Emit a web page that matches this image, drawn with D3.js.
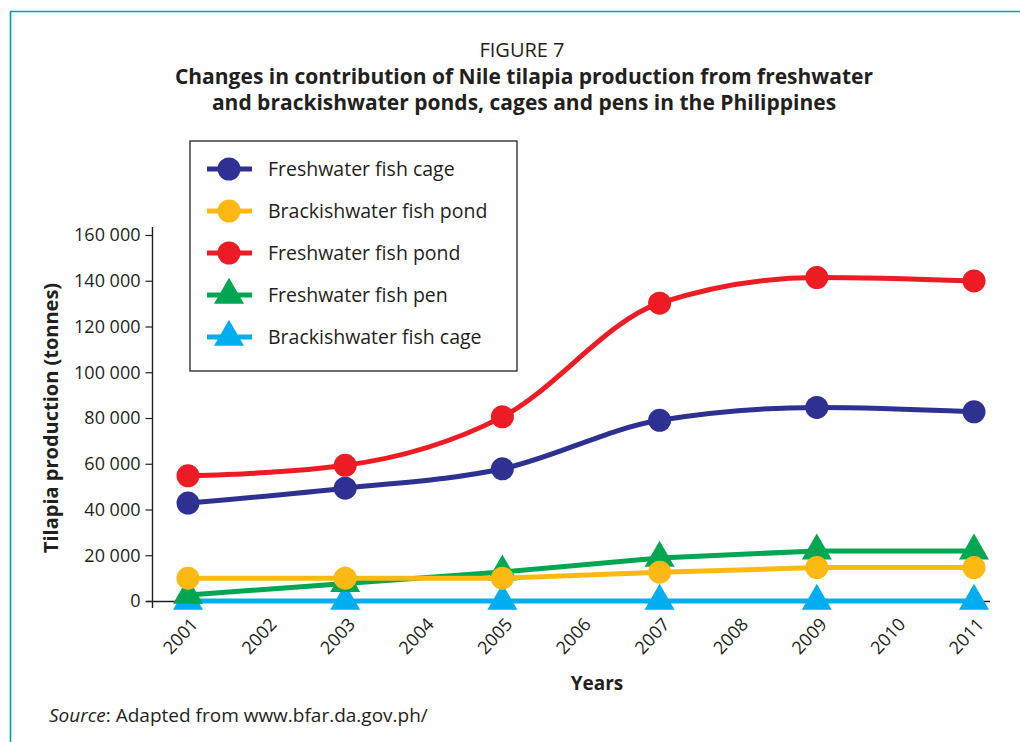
<!DOCTYPE html>
<html>
<head>
<meta charset="utf-8">
<script src="https://cdn.jsdelivr.net/npm/d3@7"></script>
<style>
  body { margin: 0; background: #fff; }
  svg text { font-family: "Open Sans", "Noto Sans", sans-serif; fill: #231f20; }
</style>
</head>
<body>
<div id="chart"></div>
<script>

// data
var years = [2001, 2003, 2005, 2007, 2009, 2011];
var yearTicks = [2001, 2002, 2003, 2004, 2005, 2006, 2007, 2008, 2009, 2010, 2011];
var yTicks = [0, 20000, 40000, 60000, 80000, 100000, 120000, 140000, 160000];

var freshwaterCage = [42800, 49300, 57800, 79000, 84600, 82700];
var brackishPond = [10000, 10000, 10000, 12600, 14600, 14600];
var freshwaterPond = [54700, 59300, 80500, 130200, 141400, 139900];
var freshwaterPen = [2600, 7700, 12700, 18800, 21900, 21900];
var brackishCage = [0, 0, 0, 0, 0, 0];

var seriesNames = ["Freshwater fish cage", "Brackishwater fish pond", "Freshwater fish pond",
                   "Freshwater fish pen", "Brackishwater fish cage"];
var seriesColors = ["#2e3192", "#fdb913", "#ed1c24", "#00a651", "#00aeef"];
var seriesShapes = ["circle", "circle", "circle", "triangle", "triangle"];
var seriesValues = [freshwaterCage, brackishPond, freshwaterPond, freshwaterPen, brackishCage];

var width = 1020, height = 742;

var svg = d3.select("#chart").append("svg")
    .attr("width", width)
    .attr("height", height);

// frame
svg.append("path")
    .attr("d", "M10.5," + height + "V11.5H" + width)
    .attr("fill", "none")
    .attr("stroke", "#00a19a")
    .attr("stroke-width", 1.6);

// titles
svg.append("text").attr("x", 522).attr("y", 57)
    .attr("text-anchor", "middle").style("font-size", "20px")
    .text("FIGURE 7");
svg.append("text").attr("x", 524).attr("y", 84)
    .attr("text-anchor", "middle").style("font-size", "21px").style("font-weight", "bold")
    .text("Changes in contribution of Nile tilapia production from freshwater");
svg.append("text").attr("x", 524).attr("y", 110)
    .attr("text-anchor", "middle").style("font-size", "21px").style("font-weight", "bold")
    .text("and brackishwater ponds, cages and pens in the Philippines");

// scales
var x = d3.scaleLinear().domain([2001, 2011]).range([188, 974]);
var y = d3.scaleLinear().domain([0, 160000]).range([601, 235]);

var fmt = function (d) { return d3.format(",")(d).replace(/,/g, " "); };

// y axis
var yAxis = d3.axisLeft(y).tickValues(yTicks).tickFormat(fmt).tickSizeOuter(0).tickSize(7).tickPadding(5);
var gy = svg.append("g").attr("transform", "translate(152.5,0)").call(yAxis);
gy.select(".domain").remove();
gy.selectAll(".tick line").attr("stroke", "#231f20").attr("stroke-width", 1.2);
gy.selectAll(".tick text").style("font-size", "18px").style("font-family", null).attr("fill", "#231f20");
gy.append("line").attr("x1", 0).attr("x2", 0).attr("y1", 227).attr("y2", 608)
    .attr("stroke", "#231f20").attr("stroke-width", 1.4);

// x axis
var xAxis = d3.axisBottom(x).tickValues(yearTicks).tickFormat(d3.format("d")).tickSize(0);
var gx = svg.append("g").attr("transform", "translate(0," + y(0) + ")").call(xAxis);
gx.select(".domain").remove();
gx.selectAll(".tick text")
    .style("font-size", "18px").style("font-family", null).attr("fill", "#231f20")
    .attr("text-anchor", "end")
    .attr("x", 0).attr("y", 0).attr("dy", "0.35em")
    .attr("transform", "translate(6,20) rotate(-47)");
svg.append("line").attr("x1", 146).attr("x2", 990).attr("y1", y(0) + 0.5).attr("y2", y(0) + 0.5)
    .attr("stroke", "#231f20").attr("stroke-width", 1.4);

// axis titles
svg.append("text").attr("x", 597).attr("y", 690)
    .attr("text-anchor", "middle").style("font-size", "19px").style("font-weight", "bold")
    .text("Years");
svg.append("text")
    .attr("transform", "translate(58,418) rotate(-90)")
    .attr("text-anchor", "middle").style("font-size", "20px").style("font-weight", "bold")
    .text("Tilapia production (tonnes)");

var triangle = d3.symbol().type(d3.symbolTriangle).size(390);

function drawMarker(g, shape, color, cx, cy) {
    if (shape == "circle") {
        g.append("circle").attr("cx", cx).attr("cy", cy).attr("r", 11.5).attr("fill", color);
    } else {
        g.append("path").attr("d", triangle()).attr("fill", color)
            .attr("transform", "translate(" + cx + "," + cy + ")");
    }
}

// series, drawn bottom first
var drawOrder = [4, 3, 1, 0, 2];
drawOrder.forEach(function (i) {
    var pts = years.map(function (yr, j) { return { year: yr, value: seriesValues[i][j] }; });
    var smooth = (i == 0 || i == 2);
    var line = d3.line()
        .x(function (d) { return x(d.year); })
        .y(function (d) { return y(d.value); })
        .curve(smooth ? d3.curveMonotoneX : d3.curveLinear);
    var g = svg.append("g");
    g.append("path").datum(pts)
        .attr("d", line)
        .attr("fill", "none")
        .attr("stroke", seriesColors[i])
        .attr("stroke-width", 5)
        .attr("stroke-linejoin", "round");
    pts.forEach(function (d) {
        drawMarker(g, seriesShapes[i], seriesColors[i], x(d.year), y(d.value));
    });
});

// legend
var legend = svg.append("g");
legend.append("rect").attr("x", 190).attr("y", 141).attr("width", 327).attr("height", 230)
    .attr("fill", "#fff").attr("stroke", "#231f20").attr("stroke-width", 1.3);
seriesNames.forEach(function (name, i) {
    var ly = 169 + i * 42;
    legend.append("line").attr("x1", 207).attr("x2", 252).attr("y1", ly).attr("y2", ly)
        .attr("stroke", seriesColors[i]).attr("stroke-width", 5);
    drawMarker(legend, seriesShapes[i], seriesColors[i], 229, ly);
    legend.append("text").attr("x", 268).attr("y", ly).attr("dy", "0.35em")
        .style("font-size", "19.5px").text(name);
});

// source note
var src = svg.append("text").attr("x", 49).attr("y", 722).style("font-size", "19px");
src.append("tspan").style("font-style", "italic").text("Source");
src.append("tspan").text(": Adapted from www.bfar.da.gov.ph/");

</script>
</body>
</html>
